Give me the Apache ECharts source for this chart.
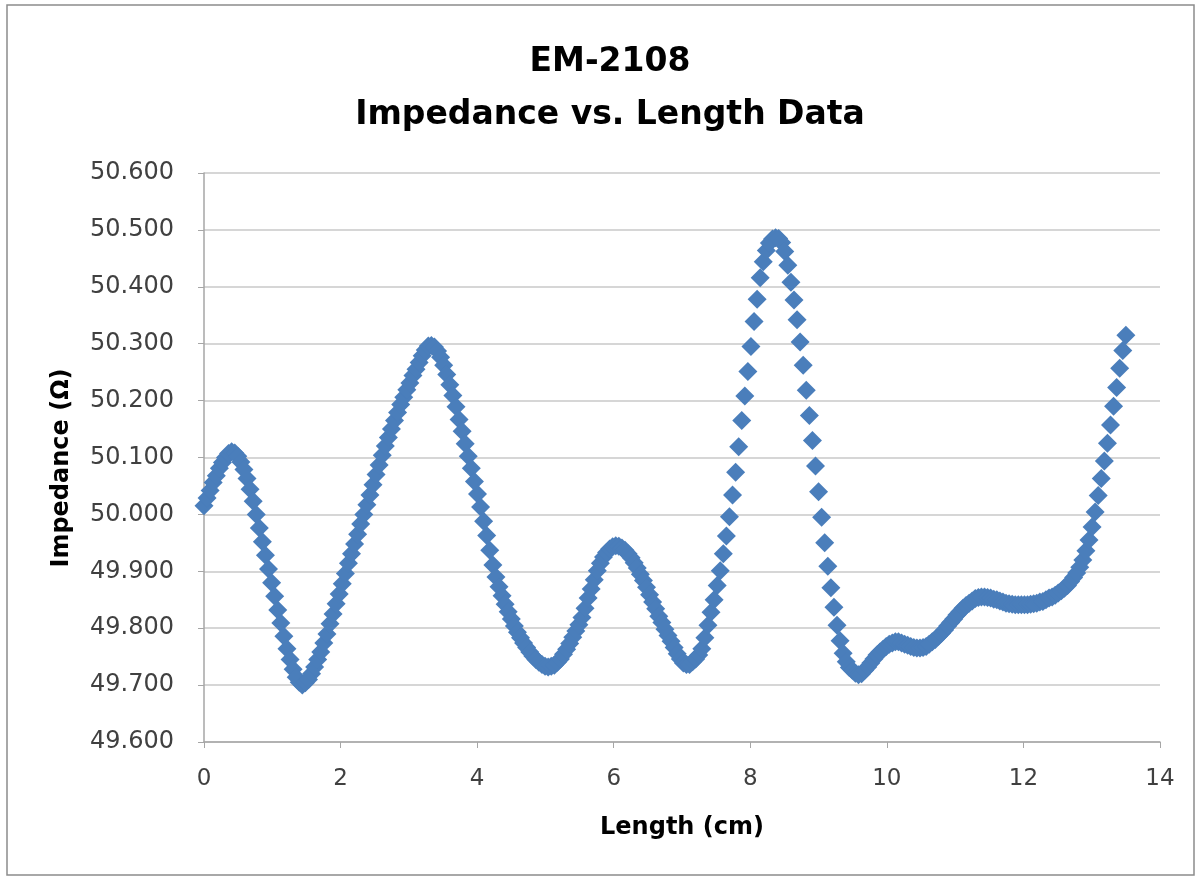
<!DOCTYPE html>
<html>
<head>
<meta charset="utf-8">
<title>EM-2108 Impedance vs. Length</title>
<script src="https://cdn.jsdelivr.net/npm/echarts@6/dist/echarts.min.js"></script>
<style>
  html, body { margin: 0; padding: 0; background: #fff; }
  #chart { width: 1201px; height: 880px; }
</style>
</head>
<body>
<div id="chart"></div>
<script>
// lengths (cm), one sample every 0.045 cm
var lengths = [
    0, 0.045, 0.09, 0.135, 0.18, 0.225, 0.27, 0.315, 0.36, 0.405,
    0.45, 0.495, 0.54, 0.585, 0.63, 0.675, 0.72, 0.765, 0.81, 0.855,
    0.9, 0.945, 0.99, 1.035, 1.08, 1.125, 1.17, 1.215, 1.26, 1.305,
    1.35, 1.395, 1.44, 1.485, 1.53, 1.575, 1.62, 1.665, 1.71, 1.755,
    1.8, 1.845, 1.89, 1.935, 1.98, 2.025, 2.07, 2.115, 2.16, 2.205,
    2.25, 2.295, 2.34, 2.385, 2.43, 2.475, 2.52, 2.565, 2.61, 2.655,
    2.7, 2.745, 2.79, 2.835, 2.88, 2.925, 2.97, 3.015, 3.06, 3.105,
    3.15, 3.195, 3.24, 3.285, 3.33, 3.375, 3.42, 3.465, 3.51, 3.555,
    3.6, 3.645, 3.69, 3.735, 3.78, 3.825, 3.87, 3.915, 3.96, 4.005,
    4.05, 4.095, 4.14, 4.185, 4.23, 4.275, 4.32, 4.365, 4.41, 4.455,
    4.5, 4.545, 4.59, 4.635, 4.68, 4.725, 4.77, 4.815, 4.86, 4.905,
    4.95, 4.995, 5.04, 5.085, 5.13, 5.175, 5.22, 5.265, 5.31, 5.355,
    5.4, 5.445, 5.49, 5.535, 5.58, 5.625, 5.67, 5.715, 5.76, 5.805,
    5.85, 5.895, 5.94, 5.985, 6.03, 6.075, 6.12, 6.165, 6.21, 6.255,
    6.3, 6.345, 6.39, 6.435, 6.48, 6.525, 6.57, 6.615, 6.66, 6.705,
    6.75, 6.795, 6.84, 6.885, 6.93, 6.975, 7.02, 7.065, 7.11, 7.155,
    7.2, 7.245, 7.29, 7.335, 7.38, 7.425, 7.47, 7.515, 7.56, 7.605,
    7.65, 7.695, 7.74, 7.785, 7.83, 7.875, 7.92, 7.965, 8.01, 8.055,
    8.1, 8.145, 8.19, 8.235, 8.28, 8.325, 8.37, 8.415, 8.46, 8.505,
    8.55, 8.595, 8.64, 8.685, 8.73, 8.775, 8.82, 8.865, 8.91, 8.955,
    9, 9.045, 9.09, 9.135, 9.18, 9.225, 9.27, 9.315, 9.36, 9.405,
    9.45, 9.495, 9.54, 9.585, 9.63, 9.675, 9.72, 9.765, 9.81, 9.855,
    9.9, 9.945, 9.99, 10.035, 10.08, 10.125, 10.17, 10.215, 10.26, 10.305,
    10.35, 10.395, 10.44, 10.485, 10.53, 10.575, 10.62, 10.665, 10.71, 10.755,
    10.8, 10.845, 10.89, 10.935, 10.98, 11.025, 11.07, 11.115, 11.16, 11.205,
    11.25, 11.295, 11.34, 11.385, 11.43, 11.475, 11.52, 11.565, 11.61, 11.655,
    11.7, 11.745, 11.79, 11.835, 11.88, 11.925, 11.97, 12.015, 12.06, 12.105,
    12.15, 12.195, 12.24, 12.285, 12.33, 12.375, 12.42, 12.465, 12.51, 12.555,
    12.6, 12.645, 12.69, 12.735, 12.78, 12.825, 12.87, 12.915, 12.96, 13.005,
    13.05, 13.095, 13.14, 13.185, 13.23, 13.275, 13.32, 13.365, 13.41, 13.455,
    13.5
];

// impedance (ohm)
var impedance = [
    50.015, 50.029, 50.042, 50.056, 50.068, 50.081, 50.091, 50.100, 50.107, 50.110,
    50.108, 50.102, 50.092, 50.079, 50.063, 50.044, 50.023, 50.000, 49.976, 49.952,
    49.928, 49.904, 49.880, 49.856, 49.832, 49.809, 49.786, 49.764, 49.745, 49.728,
    49.714, 49.705, 49.700, 49.704, 49.710, 49.720, 49.732, 49.745, 49.758, 49.774,
    49.790, 49.808, 49.825, 49.843, 49.860, 49.878, 49.896, 49.914, 49.931, 49.948,
    49.965, 49.983, 50.000, 50.017, 50.034, 50.052, 50.070, 50.087, 50.104, 50.120,
    50.135, 50.150, 50.165, 50.179, 50.193, 50.206, 50.219, 50.231, 50.244, 50.255,
    50.267, 50.279, 50.289, 50.296, 50.297, 50.294, 50.287, 50.276, 50.262, 50.246,
    50.228, 50.209, 50.189, 50.167, 50.146, 50.124, 50.102, 50.081, 50.058, 50.036,
    50.013, 49.988, 49.963, 49.937, 49.911, 49.890, 49.873, 49.857, 49.842, 49.829,
    49.816, 49.804, 49.793, 49.783, 49.774, 49.766, 49.758, 49.751, 49.745, 49.740,
    49.736, 49.733, 49.732, 49.733, 49.735, 49.740, 49.746, 49.754, 49.763, 49.773,
    49.784, 49.795, 49.806, 49.819, 49.835, 49.853, 49.869, 49.885, 49.901, 49.914,
    49.925, 49.933, 49.939, 49.943, 49.945, 49.944, 49.941, 49.937, 49.931, 49.924,
    49.915, 49.906, 49.895, 49.884, 49.872, 49.859, 49.846, 49.834, 49.821, 49.810,
    49.798, 49.787, 49.777, 49.766, 49.755, 49.746, 49.739, 49.736, 49.736, 49.741,
    49.746, 49.753, 49.764, 49.783, 49.805, 49.828, 49.850, 49.875, 49.901, 49.931,
    49.962, 49.996, 50.034, 50.074, 50.119, 50.165, 50.208, 50.251, 50.295, 50.339,
    50.378, 50.416, 50.444, 50.464, 50.477, 50.484, 50.486, 50.485, 50.478, 50.462,
    50.438, 50.408, 50.377, 50.342, 50.303, 50.262, 50.218, 50.174, 50.130, 50.085,
    50.040, 49.995, 49.950, 49.909, 49.871, 49.837, 49.805, 49.778, 49.756, 49.741,
    49.731, 49.726, 49.721, 49.718, 49.720, 49.726, 49.732, 49.739, 49.746, 49.753,
    49.758, 49.763, 49.768, 49.772, 49.774, 49.776, 49.776, 49.774, 49.772, 49.770,
    49.768, 49.766, 49.765, 49.765, 49.766, 49.768, 49.772, 49.776, 49.780, 49.786,
    49.791, 49.797, 49.804, 49.810, 49.816, 49.823, 49.829, 49.835, 49.840, 49.844,
    49.848, 49.852, 49.854, 49.855, 49.855, 49.854, 49.853, 49.851, 49.850, 49.848,
    49.846, 49.844, 49.843, 49.842, 49.841, 49.841, 49.841, 49.841, 49.841, 49.842,
    49.843, 49.844, 49.846, 49.847, 49.850, 49.853, 49.855, 49.858, 49.862, 49.866,
    49.870, 49.875, 49.882, 49.889, 49.897, 49.907, 49.920, 49.936, 49.955, 49.978,
    50.004, 50.033, 50.063, 50.094, 50.125, 50.157, 50.190, 50.223, 50.257, 50.288,
    50.315
];

var points = [];
lengths.forEach((x, i) => {
    points.push([x, impedance[i]]);
});

var myChart = echarts.init(document.getElementById('chart'));
var option = {
    backgroundColor: '#fff',
    animation: false,
    title: {
        text: 'EM-2108\nImpedance vs. Length Data',
        left: 605,
        top: 31,
        textAlign: 'center',
        textStyle: {
            fontFamily: 'DejaVu Sans',
            fontWeight: 'bold',
            fontSize: 33,
            lineHeight: 53,
            color: '#000'
        }
    },
    graphic: [{
        type: 'rect',
        shape: {x: 7, y: 5, width: 1187, height: 870},
        style: {fill: 'none', stroke: '#8c8c8c', lineWidth: 1.5},
        silent: true
    }, {
        // y axis title, set by hand so it sits a little below the plot middle like the original
        type: 'text',
        x: 62,
        y: 468,
        rotation: Math.PI / 2,
        style: {
            text: 'Impedance (Ω)',
            fontFamily: 'DejaVu Sans',
            fontWeight: 'bold',
            fontSize: 24,
            fill: '#000',
            textAlign: 'center',
            textVerticalAlign: 'middle'
        },
        silent: true
    }],
    grid: {left: 204, right: 41, top: 173, bottom: 138},
    xAxis: {
        type: 'value',
        min: 0,
        max: 14,
        interval: 2,
        name: 'Length (cm)',
        nameLocation: 'middle',
        nameGap: 74,
        nameTextStyle: {fontFamily: 'DejaVu Sans', fontWeight: 'bold', fontSize: 24, color: '#000'},
        axisLine: {show: true, lineStyle: {color: '#a6a6a6', width: 1.5}},
        axisTick: {show: true, length: 6, lineStyle: {color: '#a6a6a6'}},
        axisLabel: {margin: 26, fontFamily: 'DejaVu Sans', fontSize: 23, color: '#404040'},
        splitLine: {show: false}
    },
    yAxis: {
        type: 'value',
        min: 49.6,
        max: 50.6,
        interval: 0.1,
        axisLine: {show: true, lineStyle: {color: '#a6a6a6', width: 1.5}},
        axisTick: {show: true, length: 6, lineStyle: {color: '#a6a6a6'}},
        axisLabel: {
            margin: 30,
            fontFamily: 'DejaVu Sans',
            fontSize: 24,
            color: '#404040',
            formatter: function(v){ return v.toFixed(3); }
        },
        splitLine: {show: true, lineStyle: {color: '#c8c8c8', width: 1.5}}
    },
    series: [{
        name: 'Impedance',
        type: 'scatter',
        symbol: 'diamond',
        symbolSize: 19,
        itemStyle: {color: '#4a7ebb', opacity: 1},
        data: points
    }]
};
myChart.setOption(option);
</script>
</body>
</html>
